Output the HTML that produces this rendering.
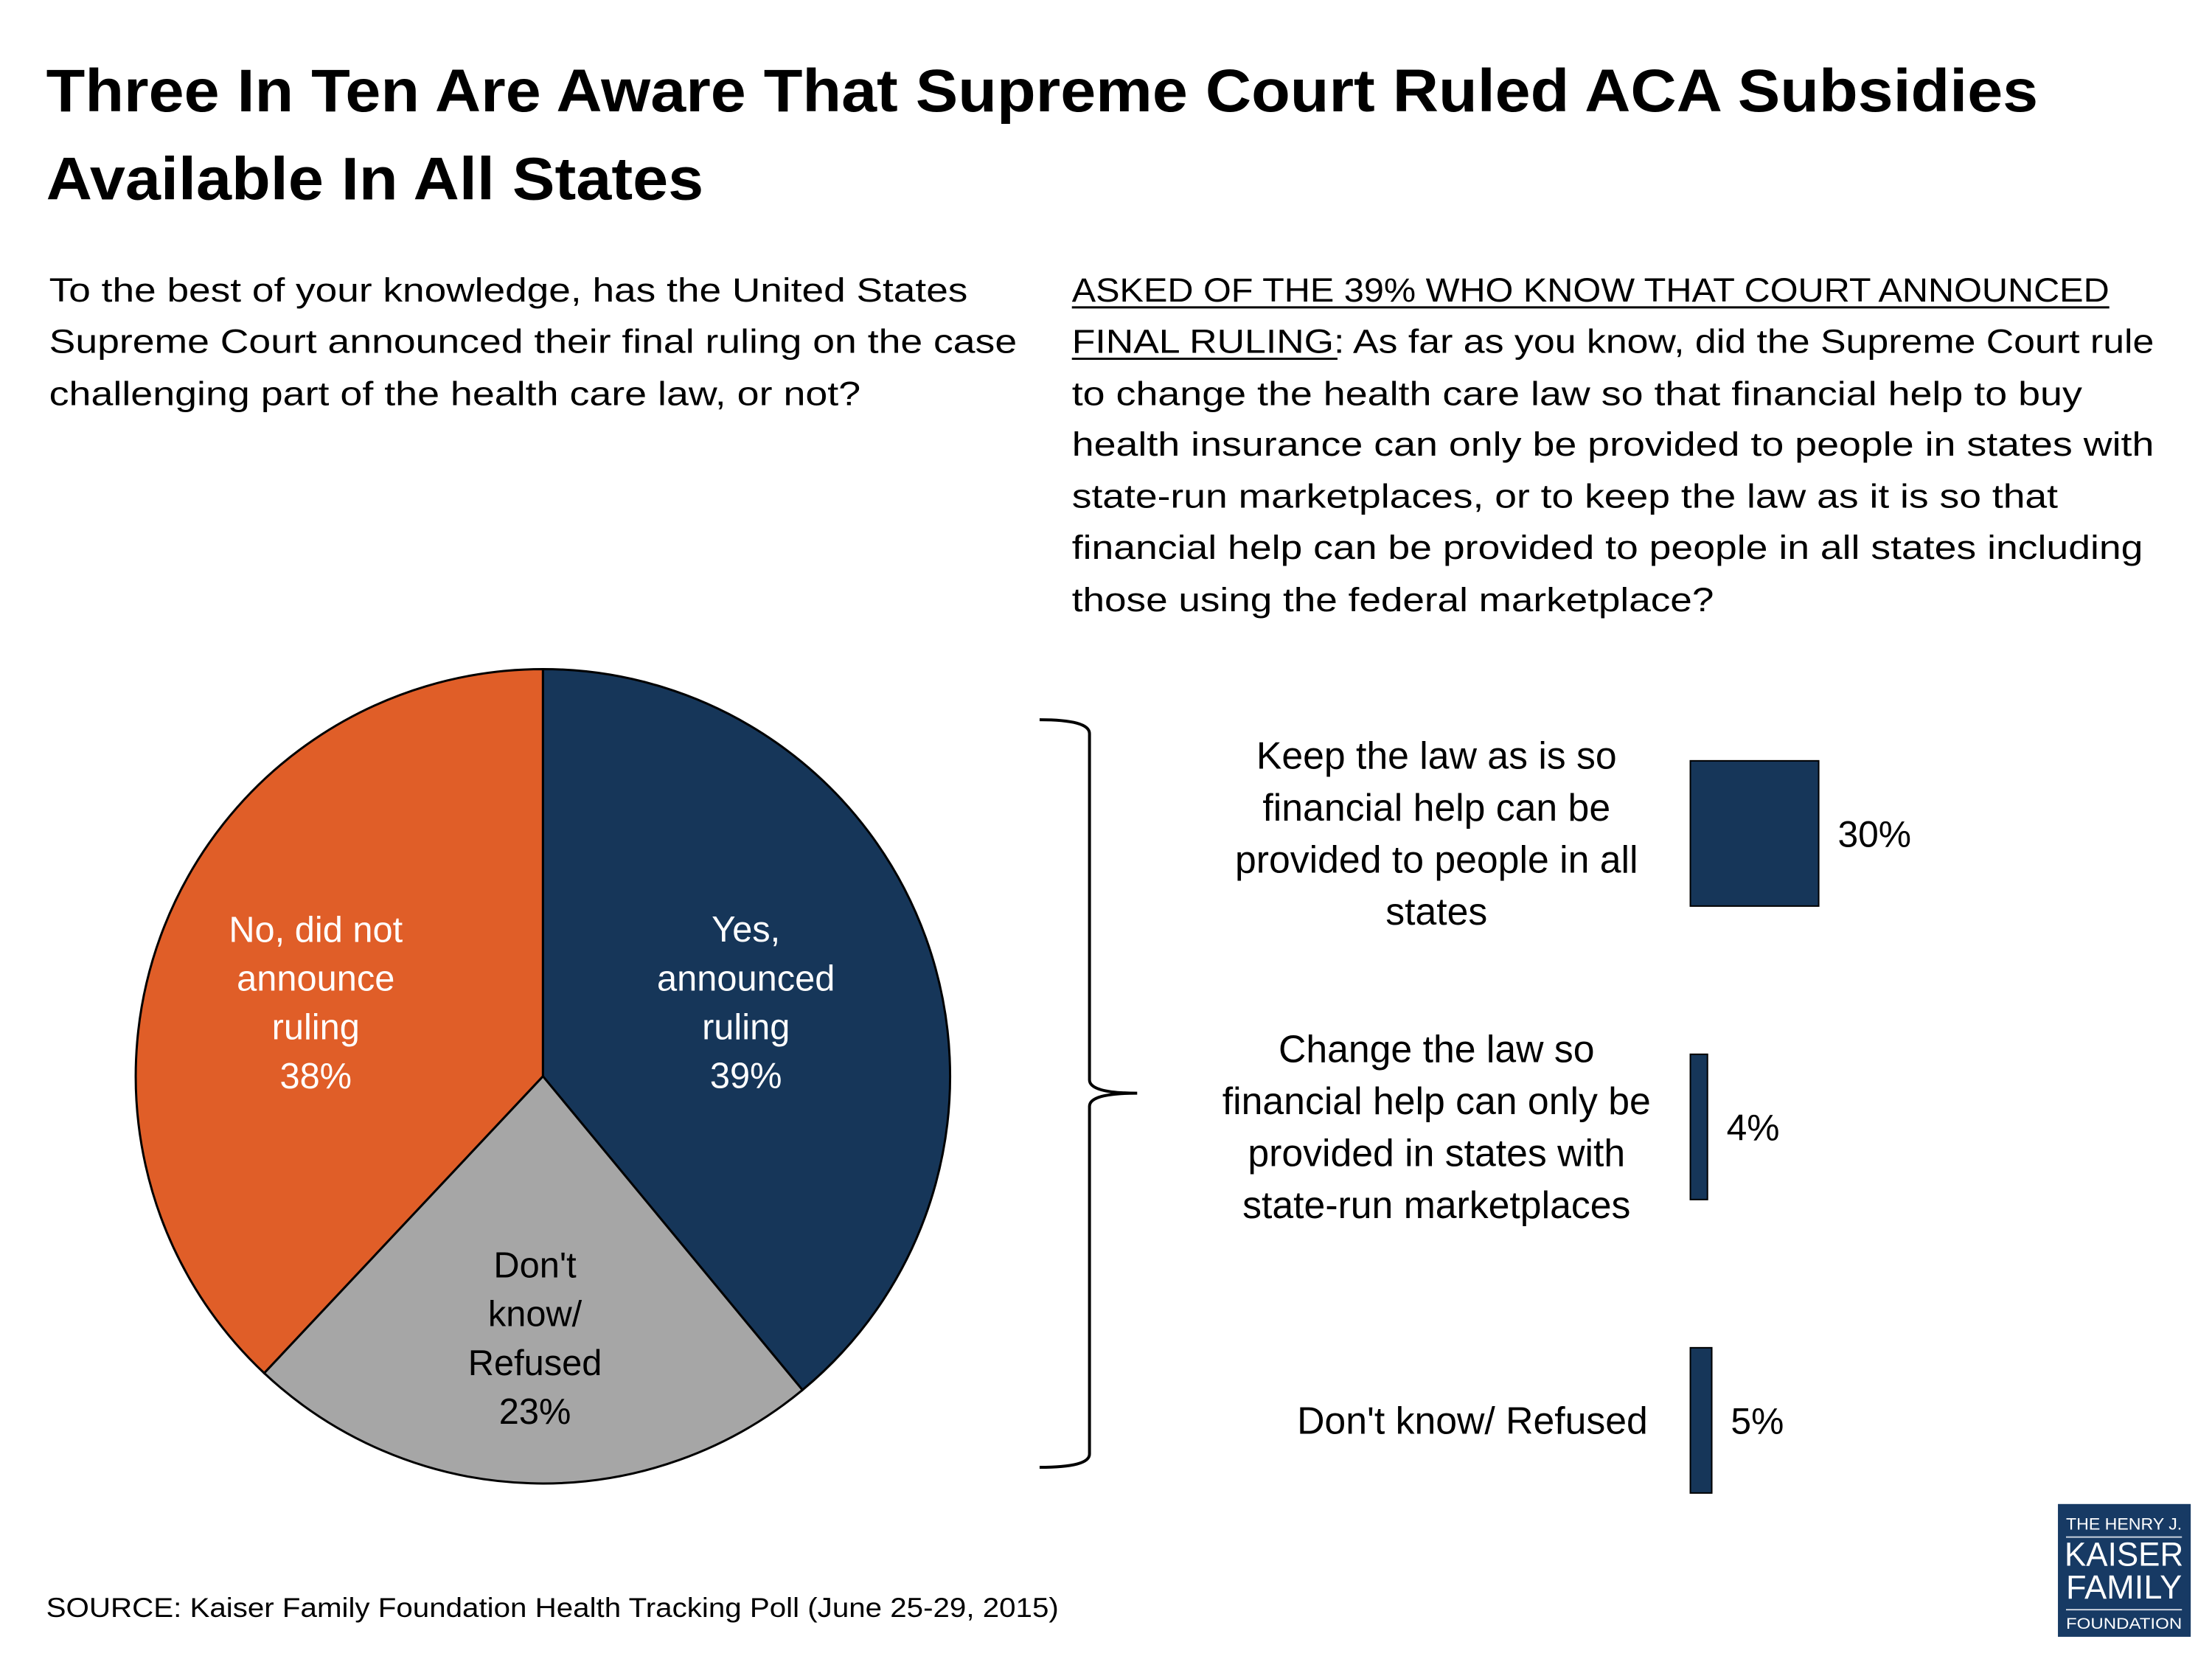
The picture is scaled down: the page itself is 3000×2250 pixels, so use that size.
<!DOCTYPE html>
<html><head><meta charset="utf-8"><style>
html,body{margin:0;padding:0;background:#fff}
svg{display:block}
text{font-family:"Liberation Sans",sans-serif}
</style></head><body>
<svg id="chart" width="3000" height="2250" viewBox="0 0 3015 2261" preserveAspectRatio="xMinYMin meet" xmlns="http://www.w3.org/2000/svg">
<g font-weight="bold" font-size="82" fill="#000">
<text x="63" y="152" textLength="2715" lengthAdjust="spacingAndGlyphs">Three In Ten Are Aware That Supreme Court Ruled ACA Subsidies</text>
<text x="63" y="272" textLength="896" lengthAdjust="spacingAndGlyphs">Available In All States</text>
</g>
<g font-size="46" fill="#000">
<text x="67" y="411" textLength="1252" lengthAdjust="spacingAndGlyphs">To the best of your knowledge, has the United States</text>
<text x="67" y="481" textLength="1319" lengthAdjust="spacingAndGlyphs">Supreme Court announced their final ruling on the case</text>
<text x="67" y="552" textLength="1106" lengthAdjust="spacingAndGlyphs">challenging part of the health care law, or not?</text>
</g>
<g font-size="46" fill="#000">
<text x="1461" y="411" textLength="1414" lengthAdjust="spacingAndGlyphs">ASKED OF THE 39% WHO KNOW THAT COURT ANNOUNCED</text>
<line x1="1461" y1="419" x2="2875" y2="419" stroke="#000" stroke-width="3"/>
<text x="1461" y="481" textLength="1475" lengthAdjust="spacingAndGlyphs">FINAL RULING: As far as you know, did the Supreme Court rule</text>
<line x1="1461" y1="489" x2="1823" y2="489" stroke="#000" stroke-width="3"/>
<text x="1461" y="552" textLength="1377" lengthAdjust="spacingAndGlyphs">to change the health care law so that financial help to buy</text>
<text x="1461" y="621" textLength="1475" lengthAdjust="spacingAndGlyphs">health insurance can only be provided to people in states with</text>
<text x="1461" y="692" textLength="1344" lengthAdjust="spacingAndGlyphs">state-run marketplaces, or to keep the law as it is so that</text>
<text x="1461" y="762" textLength="1460" lengthAdjust="spacingAndGlyphs">financial help can be provided to people in all states including</text>
<text x="1461" y="833" textLength="875" lengthAdjust="spacingAndGlyphs">those using the federal marketplace?</text>
</g>
<g id="pie"></g>
<g id="bars"></g>
<path d="M1417,981 Q1485,981 1485,1000 L1485,1472 Q1485,1490 1550,1490 Q1485,1490 1485,1508 L1485,1982 Q1485,2000 1417,2000" fill="none" stroke="#000" stroke-width="4"/>
<text x="63" y="2204" font-size="37" fill="#000" textLength="1380" lengthAdjust="spacingAndGlyphs">SOURCE: Kaiser Family Foundation Health Tracking Poll (June 25-29, 2015)</text>
<g>
<rect x="2805" y="2050" width="181" height="181" fill="#173a64"/>
<text x="2895" y="2085" font-family="Liberation Serif,serif" font-size="22" fill="#fff" text-anchor="middle" textLength="158" lengthAdjust="spacingAndGlyphs">THE HENRY J.</text>
<line x1="2816" y1="2095" x2="2974" y2="2095" stroke="#c8d0dc" stroke-width="2"/>
<text x="2895" y="2134" font-family="Liberation Serif,serif" font-size="46" fill="#fff" text-anchor="middle" textLength="162" lengthAdjust="spacingAndGlyphs">KAISER</text>
<text x="2895" y="2179" font-family="Liberation Serif,serif" font-size="46" fill="#fff" text-anchor="middle" textLength="158" lengthAdjust="spacingAndGlyphs">FAMILY</text>
<line x1="2816" y1="2194" x2="2974" y2="2194" stroke="#c8d0dc" stroke-width="2"/>
<text x="2895" y="2220" font-family="Liberation Serif,serif" font-size="21" fill="#fff" text-anchor="middle" textLength="158" lengthAdjust="spacingAndGlyphs">FOUNDATION</text>
</g>
</svg>
<script>
const NS='http://www.w3.org/2000/svg';
const pieCategories=['Yes, announced ruling','Don\'t know/ Refused','No, did not announce ruling'];
const pieValues=[39,23,38];
const pieLabelLines=[['Yes,','announced','ruling'],['Don\'t','know/','Refused'],['No, did not','announce','ruling']];
const barCategories=['Keep the law as is so financial help can be provided to people in all states','Change the law so financial help can only be provided in states with state-run marketplaces','Don\'t know/ Refused'];
const barValues=[30,4,5];
const barLabelLines=[['Keep the law as is so','financial help can be','provided to people in all','states'],['Change the law so','financial help can only be','provided in states with','state-run marketplaces'],['Don\'t know/ Refused']];

const pieColors=['#163659','#a6a6a6','#e05e28'];
const pieText=['#fff','#000','#fff'];
const labelRadius=[0.53,0.62,0.6];
const labelDy=[0,14,23];
const cx=740,cy=1467,r=555;
const pie=document.getElementById('pie');
function mk(tag,attrs,parent){const e=document.createElementNS(NS,tag);for(const k in attrs)e.setAttribute(k,attrs[k]);parent.appendChild(e);return e;}
function pt(a,rr){return [cx+rr*Math.sin(a),cy-rr*Math.cos(a)];}
const total=pieValues.reduce((a,b)=>a+b,0);
let acc=0;
pieValues.forEach((v,i)=>{
  const a0=acc/total*2*Math.PI; acc+=v; const a1=acc/total*2*Math.PI;
  const p0=pt(a0,r),p1=pt(a1,r);
  const large=(a1-a0)>Math.PI?1:0;
  const p=mk('path',{d:`M${cx},${cy} L${p0[0]},${p0[1]} A${r},${r} 0 ${large} 1 ${p1[0]},${p1[1]} Z`,fill:pieColors[i],stroke:'#000','stroke-width':3},pie);
  
  
  const am=(a0+a1)/2; const c=pt(am,r*labelRadius[i]);
  const lines=pieLabelLines[i].concat([v+'%']);
  const t=mk('text',{x:c[0],'text-anchor':'middle','font-size':49,fill:pieText[i]},pie);
  
  
  const y0=c[1]+labelDy[i]-(lines.length-1)*66.5/2+16;
  lines.forEach((s,j)=>{const ts=mk('tspan',{x:c[0],y:y0+j*66.5},t);ts.textContent=s;});
});

const bars=document.getElementById('bars');
const bx0=2304, perPct=5.83, bh=198, bandTop=1037, bandStep=400;
function xs(v){return v*perPct;}
barValues.forEach((v,i)=>{
  const y=bandTop+i*bandStep;
  const b=mk('rect',{x:bx0,y:y,width:xs(v),height:bh,fill:'#163659',stroke:'#000','stroke-width':2},bars);
  
  
  const vt=mk('text',{x:bx0+xs(v)+26,y:y+bh/2+18,'font-size':50,fill:'#000'},bars);
  vt.textContent=v+'%';
  
  
  const lines=barLabelLines[i];
  const single=lines.length===1;
  const lt=mk('text',{'font-size':52,fill:'#000','text-anchor':single?'end':'middle'},bars);
  
  
  const lx=single?2246:1958;
  const y0=y+bh/2-(lines.length-1)*71/2+18;
  lines.forEach((s,j)=>{const ts=mk('tspan',{x:lx,y:y0+j*71},lt);ts.textContent=s;});
});
</script>
</body></html>
